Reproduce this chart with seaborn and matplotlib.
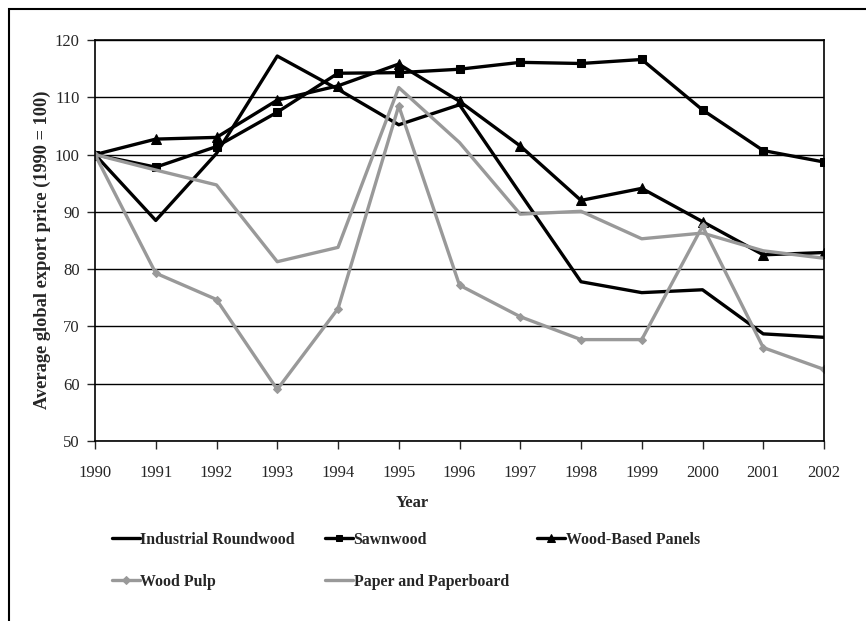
import numpy as np
import pandas as pd
import seaborn as sns
import matplotlib.pyplot as plt
from matplotlib.patches import Rectangle

years = list(range(1990, 2003))

industrial_roundwood = [100, 88.5, 100.2, 117.2, 111.4, 105.2, 108.7, 93.2, 77.8, 75.9, 76.4, 68.7, 68.1]
sawnwood = [100, 97.8, 101.4, 107.4, 114.2, 114.3, 114.9, 116.1, 115.9, 116.6, 107.8, 100.7, 98.7]
wood_panels = [100, 102.7, 103.0, 109.5, 112.0, 115.8, 109.3, 101.5, 92.0, 94.1, 88.3, 82.5, 82.9]
wood_pulp = [100, 79.3, 74.7, 59.0, 73.1, 108.5, 77.2, 71.7, 67.7, 67.7, 87.5, 66.3, 62.5]
paper = [100, 97.3, 94.7, 81.3, 83.8, 111.7, 102.1, 89.6, 90.1, 85.3, 86.3, 83.2, 81.9]

names = ["Industrial Roundwood", "Sawnwood", "Wood-Based Panels", "Wood Pulp", "Paper and Paperboard"]
series = [industrial_roundwood, sawnwood, wood_panels, wood_pulp, paper]

grey = "#999999"
colors = ["black", "black", "black", grey, grey]
markers = [None, "s", "^", "D", None]
msizes = [0, 5.5, 6.5, 4.5, 0]

sns.set_style("white")
plt.rcParams["font.family"] = ["Liberation Serif", "DejaVu Serif"]
plt.rcParams["font.size"] = 12

fig = plt.figure(figsize=(8.66, 6.21), dpi=100)
ax = fig.add_axes([95 / 866, 1 - 441 / 621, (824 - 95) / 866, (441 - 40) / 621])

handles = []
for name, vals, c, m, ms in zip(names, series, colors, markers, msizes):
    df = pd.DataFrame({"year": years, "value": vals})
    sns.lineplot(data=df, x="year", y="value", ax=ax, color=c, lw=2.4,
                 marker=m, markersize=ms, markeredgecolor=c, markerfacecolor=c,
                 label=name, legend=False)
    handles.append(ax.get_lines()[-1])

ax.set_xlim(1990, 2002)
ax.set_ylim(50, 120)
ax.set_xticks(years)
ax.set_yticks(range(50, 121, 10))
ax.yaxis.grid(True, color="black", lw=1)
ax.set_axisbelow(True)
for s in ax.spines.values():
    s.set_color("black")
    s.set_linewidth(1.2)
ax.tick_params(axis="x", direction="out", length=6, width=1, pad=11, labelsize=12)
ax.tick_params(axis="y", direction="out", length=6, width=1, pad=5, labelsize=12)
ax.tick_params(bottom=True, left=True)
ax.set_xlabel("")
ax.set_ylabel("")

fig.text(412 / 866, 1 - 503 / 621, "Year", ha="center", va="center",
         fontsize=12, fontweight="bold")
fig.text(42 / 866, 1 - 250 / 621, "Average global export price (1990 = 100)",
         ha="center", va="center", rotation=90, fontsize=13.2, fontweight="bold")

# legend, three columns laid out like the original
cols = [[0, 3], [1, 4], [2]]
col_x = [112, 325, 537]
for idx, x0 in zip(cols, col_x):
    leg = fig.legend([handles[i] for i in idx], [names[i] for i in idx],
                     loc="upper left", bbox_to_anchor=(x0 / 866, 1 - 532 / 621),
                     frameon=False, handlelength=1.75, handletextpad=0.05,
                     borderpad=0, borderaxespad=0, labelspacing=1.62,
                     prop={"weight": "bold", "size": 11.4})
    for h in leg.legend_handles:
        h.set_markersize(h.get_markersize() * 0.8)

fig.patches.append(Rectangle((9 / 866, -0.1), 1.2, 1 - 9 / 621 + 0.1,
                             transform=fig.transFigure, fill=False,
                             edgecolor="black", lw=1.5))

fig.savefig("out.png", dpi=100)
